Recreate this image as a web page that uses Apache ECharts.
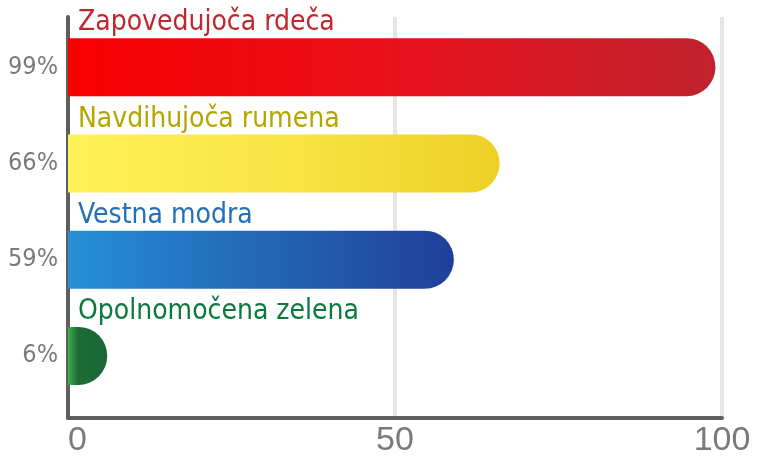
<!DOCTYPE html>
<html>
<head>
<meta charset="utf-8">
<script src="https://cdn.jsdelivr.net/npm/echarts@6/dist/echarts.min.js"></script>
<style>
html,body{margin:0;padding:0;background:#fff;}
#main{width:758px;height:461px;}
</style>
</head>
<body>
<div id="main"></div>
<script>
// Data
var names = ['Zapovedujoča rdeča', 'Navdihujoča rumena', 'Vestna modra', 'Opolnomočena zelena'];
var values = [99, 66, 59, 6];
var percentLabels = ['99%', '66%', '59%', '6%'];
var xTicks = [0, 50, 100];

// Styles
var labelColors = ['#c1272d', '#b5a500', '#2370b8', '#0b7a3c'];
var gradients = [
  [[0, '#f80000'], [0.5, '#e8101a'], [1, '#c0232f']],
  [[0, '#fef25a'], [0.5, '#f8e443'], [1, '#eed025']],
  [[0, '#2590d5'], [0.5, '#2366b5'], [1, '#203f9b']],
  [[0, '#42b04c'], [0.25, '#1c6c37'], [1, '#1a6736']]
];

var font = '"DejaVu Sans Condensed", "DejaVu Sans", sans-serif';

var chart = echarts.init(document.getElementById('main'), null, {renderer: 'canvas'});

var dataItems = values.map(function (v, i) {
  return {
    value: v,
    itemStyle: {
      color: {
        type: 'linear', x: 0, y: 0, x2: 1, y2: 0,
        colorStops: gradients[i].map(function (s) { return {offset: s[0], color: s[1]}; })
      }
    },
    label: { color: labelColors[i] }
  };
});

var option = {
  animation: false,
  backgroundColor: '#ffffff',
  grid: [
    {left: 68, right: 36, top: 17, bottom: 43},
    {left: 68, right: 36, top: 19, height: 385}
  ],
  xAxis: [
    {
      gridIndex: 0, type: 'value', min: xTicks[0], max: xTicks[xTicks.length - 1], interval: 50,
      axisLine: {show: true, lineStyle: {color: '#5e5e5e', width: 4}},
      axisTick: {show: false},
      splitLine: {show: true, lineStyle: {color: '#e6e6e6', width: 4}},
      axisLabel: {color: '#7a7a7a', fontSize: 34, fontFamily: '"Liberation Sans", Arial, sans-serif', margin: 6, alignMinLabel: 'left'}
    },
    {
      gridIndex: 1, type: 'value', min: 0, max: 100, show: false
    }
  ],
  yAxis: [
    {
      gridIndex: 0, type: 'value', min: 0, max: 1,
      axisLine: {show: true, lineStyle: {color: '#5e5e5e', width: 4}},
      axisTick: {show: false}, axisLabel: {show: false}, splitLine: {show: false}
    },
    {
      gridIndex: 1, type: 'category', inverse: true, data: percentLabels,
      axisLine: {show: false}, axisTick: {show: false},
      axisLabel: {color: '#7a7a7a', fontSize: 25, fontFamily: font, margin: 10}
    }
  ],
  series: [
    {
      type: 'bar', xAxisIndex: 1, yAxisIndex: 1,
      barWidth: 58,
      data: dataItems,
      itemStyle: {borderRadius: [0, 29, 29, 0]},
      label: {
        show: true,
        position: [10, -1],
        verticalAlign: 'bottom',
        align: 'left',
        fontSize: 28,
        fontFamily: font,
        formatter: function (p) { return names[p.dataIndex]; }
      }
    }
  ]
};
chart.setOption(option);
</script>
</body>
</html>
